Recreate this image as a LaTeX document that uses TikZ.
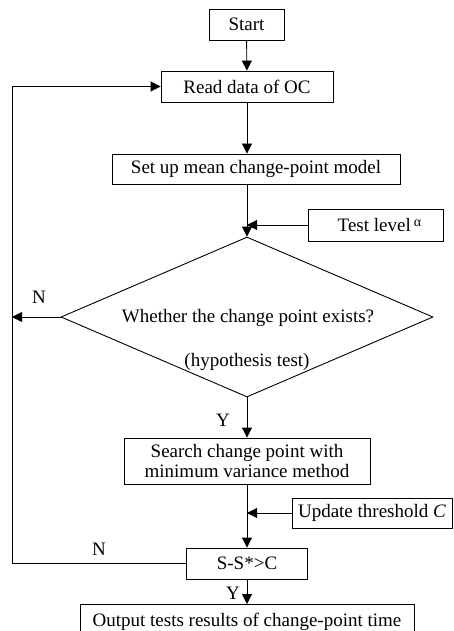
\documentclass[tikz,border=0pt]{standalone}
\usepackage{fontspec}
\setmainfont{Liberation Serif}
\usetikzlibrary{arrows.meta,shapes.geometric}

\tikzset{
	stepbox/.style={draw, line width=0.9pt, inner sep=0pt, align=center},
	arr/.style={line width=0.9pt, -{Triangle[length=10pt,width=10pt]}},
	lin/.style={line width=0.9pt}
}

\begin{document}
\begin{tikzpicture}[x=1pt, y=-1pt, every node/.style={font=\fontsize{19}{22}\selectfont}]
					\useasboundingbox (0,0) rectangle (454,631);
					\node[stepbox, minimum width=75pt, minimum height=31pt] (start) at (246.5,24.5) {Start};
					\node[stepbox, minimum width=172pt, minimum height=31pt] (read) at (247,86.5) {Read data of OC};
					\node[stepbox, minimum width=288pt, minimum height=30pt] (model) at (256,169) {Set up mean change-point model};
					\node[stepbox, minimum width=135pt, minimum height=32pt] (alpha) at (375.5,225) {\hspace*{8pt}Test level\,\raisebox{5pt}{\fontsize{14}{14}\selectfont α}};
					
					\node[diamond, draw, line width=0.9pt, inner sep=0pt, minimum width=372pt, minimum height=160pt] (dia) at (247,317) {};
					\node (q1) at (248,318) {Whether the change point exists?};
					\node (q2) at (247,362) {(hypothesis test)};
					
					\node[stepbox, minimum width=246pt, minimum height=46pt, text depth=0pt] (search) at (247,461) {Search change point with\\[-2pt]minimum variance method};
					\node[stepbox, minimum width=160pt, minimum height=30pt] (update) at (372,513) {Update threshold \textit{C}};
					\node[stepbox, minimum width=121pt, minimum height=31pt] (test) at (247,563.5) {S-S*>C};
					\node[stepbox, minimum width=334pt, minimum height=34pt, anchor=north] (output) at (247,604) {Output tests results of change-point time};
					
					\node (n1) at (39,297) {N};
					\node (n2) at (99,549) {N};
					\node (y1) at (223,420) {Y};
					\node (y2) at (233,593) {Y};
					
					\coordinate (lcorner) at (12,563.5);
					
					\draw[arr] (start) -- (read);
					\draw[arr] (read.south) -- (read.south |- model.north);
					\draw[arr] (dia.north |- model.south) -- (dia.north);
					\draw[arr] (alpha.west) -- (alpha.west -| dia.north);
					\draw[arr] (dia.west) -- (dia.west -| lcorner);
					\draw[arr] (dia.south) -- (search.north);
					\draw[arr] (search.south) -- (test.north);
					\draw[arr] (update.west) -- (update.west -| search.south);
					\draw[arr] (test.south) -- (output.north);
					\draw[arr] (test.west) -- (lcorner) |- (read.west);
				\end{tikzpicture}
\end{document}
